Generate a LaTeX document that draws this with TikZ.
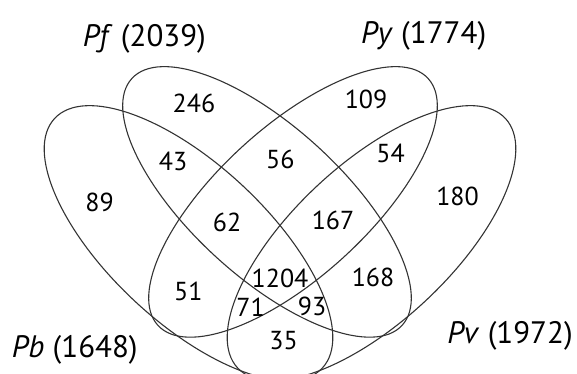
\documentclass[tikz,border=0pt]{standalone}
\usepackage{fontspec}
\setmainfont{PT Sans}
\usetikzlibrary{positioning}
\definecolor{linegray}{HTML}{333333}

\begin{document}
\begin{tikzpicture}[
  x=1pt, y=1pt,
  venn/.style={draw=linegray, line width=1.1pt},
  num/.style={font=\fontsize{26}{30}\selectfont, inner sep=0pt},
  lbl/.style={font=\fontsize{31}{36}\selectfont, inner sep=0pt, anchor=base}
]
  \clip (0,0) rectangle (577,373);

  % centres of the four sets
  \coordinate (pb) at (188.5,129.8);
  \coordinate (pf) at (267,171.1);
  \coordinate (py) at (293,171.1);
  \coordinate (pv) at (371.5,129.8);

  \draw[venn, rotate around={-43:(pb)}] (pb) ellipse [x radius=183pt, y radius=79pt];
  \draw[venn, rotate around={-42.4:(pf)}] (pf) ellipse [x radius=183pt, y radius=75pt];
  \draw[venn, rotate around={42.4:(py)}] (py) ellipse [x radius=183pt, y radius=75pt];
  \draw[venn, rotate around={43:(pv)}] (pv) ellipse [x radius=183pt, y radius=79pt];

  % set names
  \node[lbl] (lpf) at (144.4,326.3) {\textit{Pf} (2039)};
  \node[lbl] (lpy) at (423.7,329.7) {\textit{Py} (1774)};
  \node[lbl] (lpb) at (74.7,15.7) {\textit{Pb} (1648)};
  \node[lbl] (lpv) at (510,29.7) {\textit{Pv} (1972)};

  % region counts
  \node[num] (n246) at (194,269.7) {246};
  \node[num] (n109) at (366,273.5) {109};
  \node[num] (n43) at (173,212) {43};
  \node[num] (n56) at (280.3,214) {56};
  \node[num] (n54) at (390.5,219.7) {54};
  \node[num] (n89) at (99.5,171) {89};
  \node[num] (n180) at (457.5,176.3) {180};
  \node[num] (n62) at (227,151) {62};
  \node[num] (n167) at (333,153) {167};
  \node[num] (n1204) at (280,95) {1204};
  \node[num] (n51) at (188.3,81.3) {51};
  \node[num] (n168) at (373,96) {168};
  \node[num] (n71) at (250.5,65.5) {71};
  \node[num] (n93) at (312,67) {93};
  \node[num] (n35) at (283.5,32) {35};
\end{tikzpicture}
\end{document}
